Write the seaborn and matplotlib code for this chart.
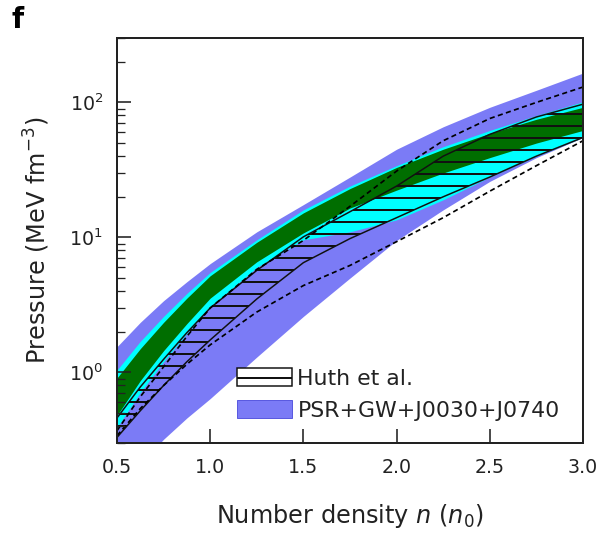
import numpy as np
import pandas as pd
import matplotlib
matplotlib.use("Agg")
import matplotlib.pyplot as plt
import seaborn as sns
from matplotlib.patches import Patch
from matplotlib.ticker import LogLocator, NullFormatter

# ---- data ----
n_grid = [0.5, 0.625, 0.75, 0.875, 1.0, 1.25, 1.5, 1.75, 2.0, 2.25, 2.5, 2.75, 3.0]

psr_upper = [1.55, 2.35, 3.4, 4.7, 6.4, 11.0, 17.5, 28.0, 45.0, 66.0, 92.0, 123.0, 165.0]
psr_lower = [0.14, 0.21, 0.32, 0.46, 0.64, 1.3, 2.6, 5.0, 9.5, 16.0, 26.0, 39.0, 55.0]

cyan_upper = [1.04, 1.7, 2.6, 3.85, 5.5, 9.6, 16.0, 24.0, 34.0, 47.0, 62.0, 80.0, 101.0]
cyan_lower = [0.39, 0.71, 1.2, 1.95, 3.05, 6.0, 9.6, 11.0, 13.5, 19.0, 28.0, 40.0, 55.0]

green_upper = [0.91, 1.5, 2.35, 3.55, 5.2, 9.2, 15.2, 23.0, 33.0, 45.0, 59.0, 75.0, 92.0]
green_lower = [0.48, 0.87, 1.45, 2.3, 3.55, 6.6, 10.8, 16.5, 22.4, 30.0, 39.0, 50.0, 62.0]

huth_upper = [0.46, 0.78, 1.25, 1.97, 3.0, 5.7, 10.1, 15.5, 24.0, 40.0, 58.0, 78.0, 97.0]
huth_lower = [0.33, 0.52, 0.8, 1.2, 1.74, 3.5, 6.5, 9.8, 14.0, 20.0, 28.0, 40.0, 55.0]

dash_upper = [0.37, 0.66, 1.1, 1.85, 3.0, 5.8, 9.5, 17.0, 31.0, 52.0, 76.0, 100.0, 130.0]
dash_lower = [0.34, 0.54, 0.8, 1.15, 1.6, 2.8, 4.4, 6.2, 9.3, 14.0, 22.0, 34.0, 52.0]

x_ticks = [0.5, 1.0, 1.5, 2.0, 2.5, 3.0]
x_ticklabels = ["0.5", "1.0", "1.5", "2.0", "2.5", "3.0"]
legend_labels = ["Huth et al.", "PSR+GW+J0030+J0740"]

# ---- style ----
sns.set_theme(style="ticks")
plt.rcParams.update({
    "font.family": ["DejaVu Sans"],
    "hatch.linewidth": 2.0,
    "axes.edgecolor": "#222222",
    "axes.linewidth": 2.0,
    "text.color": "#222222",
    "axes.labelcolor": "#222222",
    "xtick.color": "#222222",
    "ytick.color": "#222222",
    "xtick.direction": "in",
    "ytick.direction": "in",
    "xtick.top": False,
    "ytick.right": False,
})

BLUE = "#7b7bf6"
CYAN = "#00ffff"
GREEN = "#006e00"
TICK = "#222222"

DPI = 72
fig = plt.figure(figsize=(597 / DPI, 534 / DPI), dpi=DPI)
ax = fig.add_axes([117 / 597, 91 / 534, 466 / 597, 405 / 534])

df = pd.DataFrame({
    "n": n_grid,
    "psr_u": psr_upper, "psr_l": psr_lower,
    "cy_u": cyan_upper, "cy_l": cyan_lower,
    "gr_u": green_upper, "gr_l": green_lower,
    "hu_u": huth_upper, "hu_l": huth_lower,
    "d_u": dash_upper, "d_l": dash_lower,
})

ax.fill_between(df["n"], df["psr_l"], df["psr_u"], color=BLUE, lw=0, zorder=1)
ax.fill_between(df["n"], df["cy_l"], df["cy_u"], color=CYAN, lw=0, zorder=2)
ax.fill_between(df["n"], df["gr_l"], df["gr_u"], color=GREEN, lw=0, zorder=3)
ax.fill_between(df["n"], df["hu_l"], df["hu_u"], facecolor="none",
                edgecolor="#111111", hatch="-", lw=1.5, zorder=4)

sns.lineplot(data=df, x="n", y="d_u", ax=ax, color="black", lw=1.7,
             linestyle=(0, (3, 2)), zorder=5)
sns.lineplot(data=df, x="n", y="d_l", ax=ax, color="black", lw=1.7,
             linestyle=(0, (3, 2)), zorder=5)

ax.set_yscale("log")
ax.set_xlim(0.5, 3.0)
ax.set_ylim(0.3, 300)
ax.set_xticks(x_ticks)
ax.set_xticklabels(x_ticklabels)
ax.yaxis.set_major_locator(LogLocator(base=10, numticks=10))
ax.yaxis.set_minor_locator(LogLocator(base=10, subs=np.arange(2, 10), numticks=20))
ax.yaxis.set_minor_formatter(NullFormatter())

ax.tick_params(axis="both", which="major", direction="in", length=14, width=1.6,
               labelsize=19, top=False, right=False, color=TICK)
ax.tick_params(axis="y", which="minor", direction="in", length=8, width=1.3,
               right=False, color=TICK)
ax.tick_params(axis="y", which="major", pad=14)
ax.tick_params(axis="x", which="major", pad=15)
ax.tick_params(axis="x", which="minor", bottom=False, top=False)

ax.set_xlabel("Number density $n$ ($n_0$)", fontsize=24)
ax.set_ylabel("Pressure (MeV fm$^{-3}$)", fontsize=24)
ax.xaxis.set_label_coords(0.5, -0.145)
ax.yaxis.set_label_coords(-0.14, 0.5)

# ticks and frame above the filled bands
ax.set_axisbelow(False)
ax.xaxis.set_zorder(10)
ax.yaxis.set_zorder(10)
for s in ax.spines.values():
    s.set_visible(True)
    s.set_linewidth(2.0)
    s.set_color("#222222")
    s.set_zorder(11)

handles = [
    Patch(facecolor="white", edgecolor="#111111", hatch="-", lw=1.5),
    Patch(facecolor=BLUE, edgecolor="#5a5ae0", lw=1.0),
]
leg = ax.legend(handles, legend_labels, loc="upper left",
                bbox_to_anchor=(0.2575, 0.185), frameon=False, fontsize=22,
                handlelength=2.5, handleheight=0.9, handletextpad=0.25,
                labelspacing=0.5, borderpad=0, borderaxespad=0)
leg.set_zorder(12)

fig.text(12 / 597, 1 - 6 / 534, "f", fontsize=28, fontweight="bold",
         va="top", ha="left", color="black")

fig.savefig("out.png", dpi=DPI)
